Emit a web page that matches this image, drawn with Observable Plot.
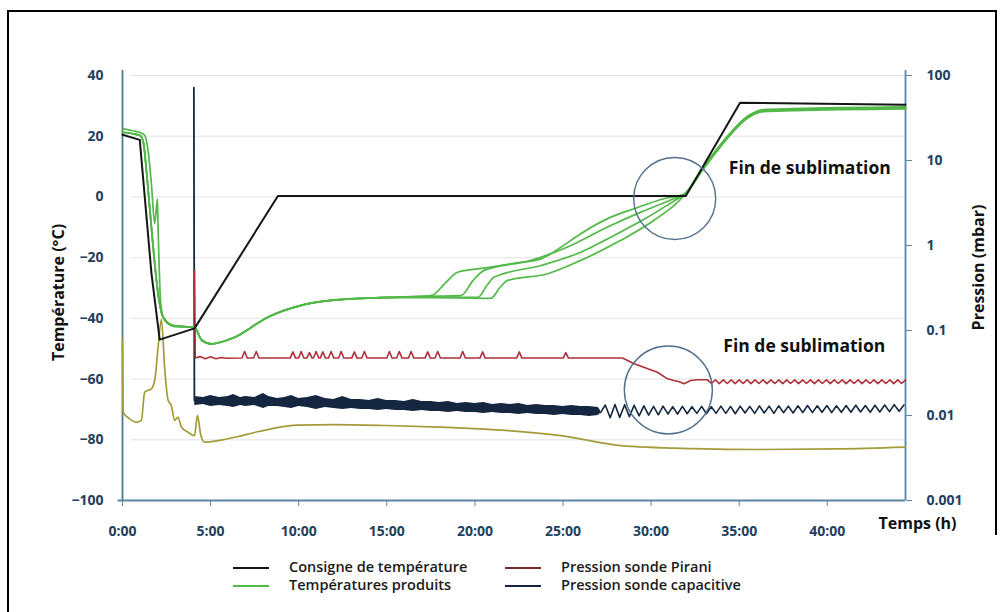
<!DOCTYPE html>
<html>
<head>
<meta charset="utf-8">
<script src="https://cdn.jsdelivr.net/npm/d3@7"></script>
<script src="https://cdn.jsdelivr.net/npm/@observablehq/plot@0.6"></script>
<style>
  html, body { margin: 0; padding: 0; background: #fff; }
  #wrap { position: relative; width: 1003px; height: 612px; overflow: hidden; font-family: "Open Sans", "Noto Sans", sans-serif; }
  .bline { position: absolute; background: #000; }
  #chart { position: absolute; left: 0; top: 0; }
  #legend { position: absolute; left: 0; top: 550px; width: 1003px; height: 62px; }
  .item { position: absolute; height: 18px; line-height: 18px; font-size: 14.5px; font-weight: 600; color: #1b1b1b; white-space: nowrap; }
  .sw { position: absolute; top: 9px; height: 0; width: 36px; border-top: 2px solid #000; }
  .lt { position: absolute; }
</style>
</head>
<body>
<div id="wrap">
  <div class="bline" style="left:7px;top:10px;width:990px;height:2px"></div>
  <div class="bline" style="left:7px;top:10px;width:2px;height:602px"></div>
  <div class="bline" style="left:995px;top:10px;width:2px;height:525px"></div>
  <div id="chart"></div>
  <div id="legend"></div>
</div>
<script>
// ---------- tick labels / axes ----------
const timeTicks = [0, 5, 10, 15, 20, 25, 30, 35, 40];
const tempTicks = [-100, -80, -60, -40, -20, 0, 20, 40];
const gridTemps = [-80, -60, -40, -20, 0, 20, 40];
const pressureTicks = [0.001, 0.01, 0.1, 1, 10, 100];
const pressureLabels = ["0.001", "0.01", "0.1", "1", "10", "100"];

// ---------- series: [time (h), temperature (°C)] ----------
const consigne = [[0,20.5],[0.98,18.8],[1.64,-25],[2.11,-47],[4.09,-43.3],[8.82,0.3],[31.97,0.3],[35.05,31],[44.44,30.4]];

const greenStartA = [[0,22.5],[0.6,21.8],[1.0,21.2],[1.26,20.3],[1.45,15.3],[1.64,4.3],[1.83,-8.8],[1.98,-0.6],[2.02,-10],[2.17,-35.2],[2.39,-40.7],[2.96,-42.7],[3.72,-42.9],[4.09,-43]];
const greenStartB = [[0,21.3],[0.6,20.8],[1.0,20.2],[1.18,18],[1.4,6],[1.7,-14],[2.0,-31],[2.3,-39.5],[2.9,-42.4],[4.09,-43]];
const greenCommon = [[4.5,-47.2],[5.04,-48.4],[6.34,-46.3],[8.25,-39.6],[10.14,-35.7],[11.84,-34.1],[14.68,-33.2]];
const greenRiseA = [[17.2,-32.7],[17.61,-32.3],[18.3,-28.5],[19.02,-24.8],[20.73,-23.3],[22.3,-21.8],[23.75,-20.4],[24.9,-16.5],[26.01,-12.1],[27.72,-6.65],[29.02,-3.9],[30.72,-0.6],[31.87,1.0]];
const greenRiseB = [[17.5,-32.7],[19.21,-32.5],[19.9,-27.5],[20.52,-24.2],[23.18,-20.9],[25.26,-16.5],[27.53,-9.9],[29.42,-5.0],[31.29,-0.6],[31.87,0.8]];
const greenRiseC = [[17.5,-32.9],[20.16,-33.1],[20.7,-29],[21.1,-26.4],[23.75,-22.6],[26.01,-18.2],[27.9,-12.7],[29.8,-6.7],[31.69,0],[31.87,0.6]];
const greenRiseD = [[17.5,-33.2],[20.91,-33.4],[21.4,-30],[21.86,-27.5],[24.13,-25.3],[26.01,-20.9],[28.28,-14.3],[30.17,-7.7],[31.87,0.5]];
const greenEnd = [[33.0,9.8],[34.33,19.7],[35.47,26.3],[36.41,28.5],[38.09,28.8],[44.44,29.4]];

const olive = [[0,-47],[0.03,-70.9],[0.41,-73.1],[0.79,-74.2],[1.07,-73.6],[1.26,-64.3],[1.45,-63.7],[1.64,-63.2],[1.83,-60.4],[2.02,-49.5],[2.21,-40.3],[2.39,-56.1],[2.59,-67.0],[2.77,-68.7],[2.96,-73.6],[3.15,-72.5],[3.34,-75.8],[3.72,-77.5],[4.09,-78.6],[4.25,-72.0],[4.45,-78.6],[4.66,-80.8],[5.5,-80.2],[6.5,-79.0],[7.5,-77.6],[8.5,-76.3],[9.95,-75.2],[12,-75.0],[15,-75.3],[18,-75.8],[20.35,-76.4],[24.88,-78.6],[28.28,-81.9],[32.42,-82.9],[36.22,-83.2],[40.5,-83.0],[44.44,-82.4]];

// ---------- series: [time (h), pressure (mbar)] ----------
const pirani = [[4.09,0.51],[4.13,0.0474],[4.4,0.0493],[4.7,0.0465],[5.0,0.0490],[5.3,0.0466],[5.6,0.0482],[5.9,0.0472],
  [6.78,.0474],[6.93,.0566],[7.08,.0474],[7.44,.0474],[7.59,.0566],[7.74,.0474],[9.52,.0474],[9.67,.0560],[9.82,.0474],
  [9.99,.0474],[10.14,.0566],[10.29,.0474],[10.46,.0474],[10.61,.0550],[10.76,.0474],[10.84,.0474],[10.99,.0566],[11.14,.0474],
  [11.22,.0474],[11.37,.0560],[11.52,.0474],[11.69,.0474],[11.84,.0566],[11.99,.0474],[12.26,.0474],[12.41,.0566],[12.56,.0474],
  [13.01,.0474],[13.16,.0560],[13.31,.0474],[13.58,.0474],[13.73,.0566],[13.88,.0474],[15.0,.0474],[15.15,.0566],[15.3,.0474],
  [15.56,.0474],[15.71,.0566],[15.86,.0474],[16.23,.0474],[16.38,.0566],[16.53,.0474],[17.17,.0474],[17.32,.0560],[17.47,.0474],
  [17.74,.0474],[17.89,.0566],[18.04,.0474],[19.16,.0474],[19.31,.0566],[19.46,.0474],[20.29,.0474],[20.44,.0560],[20.59,.0474],
  [22.37,.0474],[22.52,.0560],[22.67,.0474],[25.01,.0474],[25.16,.0550],[25.31,.0474],[28.38,.0474],[29.04,.0406],[30.36,.0323],
  [30.93,.0270],[31.3,.0258],[31.6,.0250],[31.87,.0236],[32.25,.0258],[32.63,.0263],
  [33.2,.0263],[33.42,.0238],[33.65,.0263],[33.87,.0237],[34.1,.0263],[34.32,.0238],[34.55,.0262],[34.77,.0237],[35.0,.0263],
  [35.22,.0238],[35.45,.0262],[35.67,.0237],[35.9,.0263],[36.12,.0238],[36.35,.0262],[36.57,.0237],[36.8,.0263],[37.02,.0238],
  [37.25,.0262],[37.47,.0237],[37.7,.0263],[37.92,.0238],[38.15,.0262],[38.37,.0237],[38.6,.0263],[38.82,.0238],[39.05,.0262],
  [39.27,.0237],[39.5,.0263],[39.72,.0238],[39.95,.0262],[40.17,.0237],[40.4,.0263],[40.62,.0238],[40.85,.0262],[41.07,.0237],
  [41.3,.0263],[41.52,.0238],[41.75,.0262],[41.97,.0237],[42.2,.0263],[42.42,.0238],[42.65,.0262],[42.87,.0237],[43.1,.0263],
  [43.32,.0238],[43.55,.0262],[43.77,.0237],[44.0,.0263],[44.22,.0238],[44.44,.0262]];

const capSpike = [[4.05,72],[4.08,0.0150]];
// [time, upper, lower] envelope of the noisy capacitive signal
const capBand = [[4.1,.01673,.01311],[4.6,.01629,.01347],[5.0,.01719,.01276],[5.5,.01629,.01311],[6.0,.01673,.01276],
  [6.3,.01767,.01242],[6.7,.01629,.01311],[7.0,.01673,.01276],[7.5,.01629,.01311],[8.0,.01815,.01208],[8.3,.01673,.01276],
  [8.8,.01585,.01276],[9.2,.01629,.01242],[9.6,.01719,.01208],[10.0,.01585,.01276],[10.5,.01629,.01242],[11.0,.01719,.01176],
  [11.5,.01585,.01242],[12.0,.01542,.01208],[12.5,.01673,.01176],[13.0,.01542,.01208],[13.5,.01542,.01176],[14.0,.01501,.01176],
  [14.5,.01585,.01145],[15.0,.01501,.01176],[15.5,.01501,.01145],[16.0,.01461,.01145],[16.5,.01542,.01114],[17.0,.01461,.01145],
  [17.5,.01461,.01114],[18.0,.01422,.01114],[18.5,.01461,.01084],[19.0,.01384,.01114],[19.5,.01422,.01084],[20.0,.01384,.01084],
  [20.5,.01422,.01055],[21.0,.01347,.01084],[21.5,.01384,.01055],[22.0,.01347,.01055],[22.5,.01384,.01027],[23.0,.01311,.01055],
  [23.5,.01347,.01027],[24.0,.01311,.01027],[24.5,.01311,.01000],[25.0,.01276,.01027],[25.5,.01311,.01000],[26.0,.01276,.01000],
  [26.5,.01276,.00973],[27.0,.01242,.01000],[27.13,.01145,.01055]];
const capZigzag = [[27.13,.0108],[27.40,.0133],[27.68,.0094],[27.95,.0135],[28.22,.0095],[28.50,.0134],[28.77,.0097],[29.04,.0132],
  [29.32,.0099],[29.59,.0130],[29.86,.0101],[30.14,.0128],[30.41,.0102],[30.68,.0129],[30.96,.0104],[31.23,.0127],[31.50,.0104],
  [31.78,.0128],[32.05,.0105],[32.32,.0127],[32.60,.0106],[32.87,.0128],[33.14,.0105],[33.42,.0127],[33.69,.0106],[33.96,.0129],
  [34.24,.0106],[34.51,.0128],[34.78,.0105],[35.06,.0129],[35.33,.0107],[35.60,.0128],[35.88,.0106],[36.15,.0130],[36.42,.0107],
  [36.70,.0129],[36.97,.0106],[37.24,.0130],[37.52,.0108],[37.79,.0129],[38.06,.0107],[38.34,.0130],[38.61,.0108],[38.88,.0131],
  [39.16,.0108],[39.43,.0130],[39.70,.0109],[39.98,.0131],[40.25,.0108],[40.52,.0130],[40.80,.0109],[41.07,.0131],[41.34,.0109],
  [41.62,.0132],[41.89,.0110],[42.16,.0131],[42.44,.0109],[42.71,.0132],[42.98,.0110],[43.26,.0133],[43.53,.0111],[43.80,.0134],
  [44.08,.0112],[44.35,.0133]];

// ---------- annotations ----------
const noteText = ["Fin de sublimation", "Fin de sublimation"];
const noteTime = [34.41, 34.1];
const noteTemp = [9.4, -49.2];
const circleTime = [31.34, 30.98];
const circleTemp = [-0.5, -63.6];

const legendItems = [
  {label: "Consigne de température", color: "#151515"},
  {label: "Températures produits", color: "#52b848"},
  {label: "Pression sonde Pirani", color: "#7a2a2a"},
  {label: "Pression sonde capacitive", color: "#142640"}
];

// ---------- helpers ----------
const tMax = 44.44, yTop = 41.65;
// pressure (log, 0.001–100 mbar) mapped onto the temperature axis (-100–40 °C)
const toT = p => -100 + 28 * (Math.log10(p) + 3);
const pLabel = new Map(pressureTicks.map((p, i) => [toT(p), pressureLabels[i]]));

const C = {black: "#151515", green: "#52b848", red: "#b0303a", navy: "#142640", olive: "#a39b3a",
           axisBlue: "#5a86a6", axisTeal: "#4d7d88", tick: "#22405e", grid: "#e3e3e3", circle: "#55708c"};

const xy = {x: d => d[0], y: d => d[1]};
const xp = {x: d => d[0], y: d => toT(d[1])};

const greens = [
  greenStartA.concat(greenCommon, greenRiseA, greenEnd),
  greenStartB.concat(greenCommon, greenRiseB, greenEnd.map(d => [d[0], d[1] - 0.4])),
  greenStartB.concat(greenCommon, greenRiseC, greenEnd),
  greenStartB.concat(greenCommon, greenRiseD, greenEnd.map(d => [d[0], d[1] + 0.3]))
];

const notes = noteText.map((t, i) => ({text: t, x: noteTime[i], y: noteTemp[i]}));

const chart = Plot.plot({
  width: 1003, height: 550,
  marginLeft: 122, marginRight: 98, marginTop: 70, marginBottom: 50,
  x: {domain: [0, tMax]},
  y: {domain: [-100, yTop]},
  style: {fontFamily: "'Open Sans', 'Noto Sans', sans-serif", fontSize: "14px", fontWeight: "bold", background: "transparent", color: C.tick},
  marks: [
    Plot.ruleY(gridTemps, {x1: 0.5, x2: tMax, stroke: C.grid, strokeWidth: 1}),
    Plot.axisX({ticks: timeTicks, tickFormat: d => `${d}:00`, tickSize: 6, tickPadding: 20, stroke: C.axisBlue, fill: C.tick, label: null, fontSize: 14, fontWeight: "bold"}),
    Plot.axisY({ticks: tempTicks, tickSize: 0, tickPadding: 19, fill: C.tick, label: null, fontSize: 14, fontWeight: "bold"}),
    Plot.axisY({anchor: "right", ticks: pressureTicks.map(toT), tickFormat: d => pLabel.get(d), tickSize: 6, tickPadding: 15, stroke: C.axisBlue, fill: C.tick, label: null, fontSize: 14, fontWeight: "bold"}),
    Plot.ruleX([0], {y1: -100, y2: yTop, stroke: C.axisTeal, strokeWidth: 1.8}),
    Plot.ruleX([tMax], {y1: -100, y2: yTop, stroke: C.axisBlue, strokeWidth: 1.8}),
    Plot.ruleY([-100], {x1: -0.25, x2: tMax, stroke: C.axisBlue, strokeWidth: 1.8}),
    // olive (condenser) curve
    Plot.line(olive, {...xy, stroke: C.olive, strokeWidth: 1.7, curve: "monotone-x"}),
    // pressures
    Plot.areaY(capBand, {x: d => d[0], y1: d => toT(d[2]), y2: d => toT(d[1]), fill: C.navy, curve: "linear"}),
    Plot.line(capSpike, {...xp, stroke: C.navy, strokeWidth: 1.8}),
    Plot.line(capZigzag, {...xp, stroke: C.navy, strokeWidth: 1.6}),
    Plot.line(pirani, {...xp, stroke: C.red, strokeWidth: 1.6}),
    // temperatures
    ...greens.map(g => Plot.line(g, {...xy, stroke: C.green, strokeWidth: 1.7, curve: "monotone-x"})),
    Plot.line(consigne, {...xy, stroke: C.black, strokeWidth: 2}),
    // circles + notes
    Plot.dot([0], {x: () => circleTime[0], y: () => circleTemp[0], r: 41, stroke: C.circle, strokeWidth: 1.4, fill: "none"}),
    Plot.dot([1], {x: () => circleTime[1], y: () => circleTemp[1], r: 44, stroke: C.circle, strokeWidth: 1.4, fill: "none"}),
    Plot.text(notes, {x: "x", y: "y", text: "text", textAnchor: "start", fontSize: 17.5, fontWeight: "bold", fill: "#111"}),
    // axis titles
    Plot.text(["Température (°C)"], {frameAnchor: "left", textAnchor: "middle", dx: -64, dy: 7, rotate: -90, fontSize: 16, fontWeight: "bold", fill: "#111"}),
    Plot.text(["Pression (mbar)"], {frameAnchor: "right", textAnchor: "middle", dx: 73, dy: -18, rotate: -90, fontSize: 16, fontWeight: "bold", fill: "#111"}),
    Plot.text(["Temps (h)"], {frameAnchor: "bottom-right", dx: -27, dy: 28, textAnchor: "start", fontSize: 16, fontWeight: "bold", fill: "#111"})
  ]
});
document.getElementById("chart").appendChild(chart);

// legend (below the chart)
const legendPos = [[233, 8], [233, 26], [505, 8], [505, 26]];
const legend = document.getElementById("legend");
legendItems.forEach((it, i) => {
  const d = document.createElement("div");
  d.className = "item";
  d.style.left = legendPos[i][0] + "px";
  d.style.top = legendPos[i][1] + "px";
  d.innerHTML = `<span class="sw" style="border-top-color:${it.color}"></span><span class="lt" style="left:56px">${it.label}</span>`;
  legend.appendChild(d);
});
</script>
</body>
</html>
